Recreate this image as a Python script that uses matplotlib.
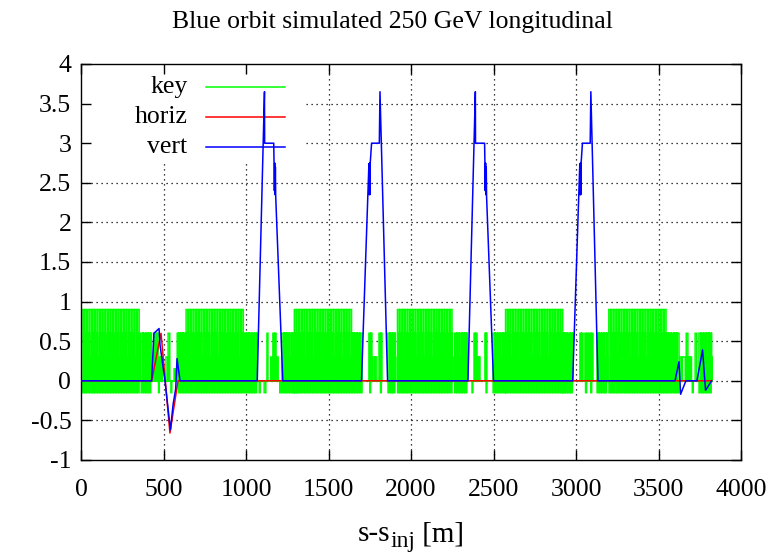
import numpy as np
import matplotlib
matplotlib.use("Agg")
import matplotlib.pyplot as plt
from matplotlib.patches import Rectangle

# ---------------- data ----------------
title = "Blue orbit simulated 250 GeV longitudinal"
xlabel_parts = ["s-s", "inj", " [m]"]
x_ticks = [0, 500, 1000, 1500, 2000, 2500, 3000, 3500, 4000]
y_ticks = [-1, -0.5, 0, 0.5, 1, 1.5, 2, 2.5, 3, 3.5, 4]
y_tick_labels = ["-1", "-0.5", "0", "0.5", "1", "1.5", "2", "2.5", "3", "3.5", "4"]
series_names = ["key", "horiz", "vert"]

# lattice key: dense regions (start, end) with their top level
arc_regions = [(6, 364), (637, 990), (1293, 1645), (1918, 2264), (2573, 2920), (3199, 3550)]
arc_level = 0.9
band_regions = [(364, 434), (590, 637), (990, 1070), (1218, 1293), (1645, 1705),
                (1860, 1918), (2264, 2343), (2497, 2573), (2920, 2982), (3127, 3199),
                (3550, 3625), (3745, 3824)]
band_level = 0.6
cell_length = 16.0
# repeating cell: (offset start, offset end, level); None = region top level
cell_elements = [(0.0, 10.5, None), (11.2, 12.6, 0.6), (13.2, 14.6, 0.3), (0.8, 10.2, -0.15)]
# isolated elements in the straight sections (start, end, level)
sparse_elements = [
    (440, 446, 0.6), (452, 458, 0.6), (462, 467, 0.6), (470, 474, -0.15), (475, 484, 0.3),
    (486, 493, 0.3), (515, 527, 0.3), (528, 538, 0.6), (545, 550, -0.15), (564, 572, 0.15),
    (574, 580, 0.15), (583, 590, 0.6),
    (1080, 1086, -0.15), (1110, 1120, -0.15), (1127, 1133, 0.6), (1150, 1158, 0.3),
    (1163, 1170, 0.6), (1175, 1182, 0.6), (1186, 1195, 0.3), (1205, 1210, -0.15),
    (1745, 1754, 0.6), (1756, 1763, 0.6), (1750, 1755, -0.15), (1770, 1780, 0.3),
    (1783, 1793, 0.3), (1806, 1815, 0.6), (1817, 1824, 0.6), (1815, 1820, -0.15),
    (2370, 2375, -0.15), (2382, 2390, 0.6), (2392, 2400, 0.6), (2400, 2409, 0.3),
    (2410, 2418, 0.3), (2448, 2454, 0.6), (2455, 2460, 0.6), (2455, 2460, -0.15),
    (3024, 3032, 0.6), (3034, 3042, 0.6), (3054, 3060, 0.6), (3066, 3075, 0.6),
    (3080, 3090, 0.6), (3095, 3103, 0.6), (3058, 3064, -0.15), (3090, 3095, -0.15),
    (3630, 3640, 0.3), (3645, 3662, 0.3), (3668, 3678, 0.6), (3680, 3690, 0.3),
    (3692, 3700, 0.3), (3722, 3732, 0.6), (3705, 3710, -0.15),
]
key_end = 3824

horiz_s = [0, 428, 485, 539, 588, 3822]
horiz_v = [0, 0, 0.6, -0.66, 0, 0]

vert_s = [0, 428, 442, 473, 479, 509, 527, 542, 558, 574, 582, 600,
          1068, 1112, 1113, 1168, 1170, 1172, 1174, 1176, 1178, 1180, 1223,
          1700, 1745, 1747, 1749, 1751, 1753, 1761, 1808, 1812, 1858,
          2345, 2390, 2391, 2446, 2448, 2450, 2452, 2454, 2456, 2458, 2500,
          2980, 3023, 3025, 3027, 3029, 3031, 3039, 3086, 3090, 3133,
          3600, 3624, 3634, 3666, 3733, 3767, 3785, 3822]
vert_v = [0, 0, 0.6, 0.66, 0.45, 0, -0.34, -0.62, -0.3, -0.1, 0.28, 0,
          0, 3.65, 3.0, 3.0, 2.75, 2.4, 2.75, 2.35, 2.7, 2.33, 0,
          0, 2.74, 2.35, 2.75, 2.35, 2.75, 3.0, 3.0, 3.65, 0,
          0, 3.65, 3.0, 3.0, 2.75, 2.4, 2.75, 2.35, 2.7, 2.33, 0,
          0, 2.74, 2.35, 2.75, 2.35, 2.75, 3.0, 3.0, 3.65, 0,
          0, 0.24, -0.17, 0, 0, 0.39, -0.12, 0]

# ---------------- build key path ----------------
elements = []
for (a, b) in arc_regions:
    for c0 in np.arange(a, b, cell_length):
        for (o0, o1, lv) in cell_elements:
            if c0 + o1 <= b:
                elements.append((c0 + o0, c0 + o1, arc_level if lv is None else lv))
for (a, b) in band_regions:
    for c0 in np.arange(a, b, cell_length):
        for (o0, o1, lv) in cell_elements:
            if c0 + o1 <= b:
                elements.append((c0 + o0, c0 + o1, band_level if lv is None else lv))
elements.extend(sparse_elements)

kx, ky = [0, key_end, np.nan], [0, 0, np.nan]
for (s0, s1, lv) in elements:
    kx += [s0, s0, s1, s1, np.nan]
    ky += [0, lv, lv, 0, np.nan]

# ---------------- figure ----------------
plt.rcParams['font.family'] = ['Liberation Serif', 'DejaVu Serif']
plt.rcParams['font.size'] = 18.5

W, H = 784, 554
fig = plt.figure(figsize=(W / 100, H / 100), dpi=100)
ax = fig.add_axes([81/W, 1 - 460/H, 660/W, 396/H])
ax.set_xlim(0, 4000)
ax.set_ylim(-1, 4)

for xt in x_ticks[1:-1]:
    ax.axvline(xt, color='black', lw=0.9, ls=(0, (1, 3)), zorder=0.6)
for yt in y_ticks[1:-1]:
    ax.axhline(yt, color='black', lw=0.9, ls=(0, (1, 3)), zorder=0.6)

# opaque key area
ax.add_patch(Rectangle((0, 0.753), 0.336, 0.247, transform=ax.transAxes,
                       facecolor='white', edgecolor='none', zorder=0.8))

ax.plot(kx, ky, color='#00ff00', lw=1.1, zorder=2, solid_joinstyle='miter')
ax.plot(horiz_s, horiz_v, color='#ff0000', lw=1.1, zorder=3)
ax.plot(vert_s, vert_v, color='#0000ff', lw=1.1, zorder=4)

# key legend (gnuplot style)
colors = ['#00ff00', '#ff0000', '#0000ff']
rows = [0.942, 0.866, 0.790]
for name, col, yy in zip(series_names, colors, rows):
    ax.text(0.161, yy, name, transform=ax.transAxes, ha='right', va='center', zorder=5)
    ax.plot([0.189, 0.309], [yy, yy], transform=ax.transAxes, color=col, lw=1.1, zorder=3.5)

ax.set_xticks(x_ticks)
ax.set_yticks(y_ticks)
ax.set_yticklabels(y_tick_labels)
ax.tick_params(direction='in', length=7, width=1.0, top=True, right=True)
ax.tick_params(axis='x', pad=14)
ax.tick_params(axis='y', pad=7)
for sp in ax.spines.values():
    sp.set_linewidth(1.0)

# title centred on the whole canvas (gnuplot style)
fig.text(0.5, 1 - 22 / H, title, ha='center', va='center', fontsize=18.5)

# x label with gnuplot-like subscript, built from pieces
sizes = [21, 17, 21]
drops = [0, 6, 0]
base_y = 541
pieces = [fig.text(0, 1 - (base_y + d) / H, p, fontsize=fs, va='baseline', ha='left')
          for p, fs, d in zip(xlabel_parts, sizes, drops)]
fig.canvas.draw()
r = fig.canvas.get_renderer()
widths = [t.get_window_extent(r).width for t in pieces]
x = 411 - sum(widths) / 2
for t, w in zip(pieces, widths):
    t.set_x(x / W)
    x += w

fig.savefig("out.png", dpi=100)
